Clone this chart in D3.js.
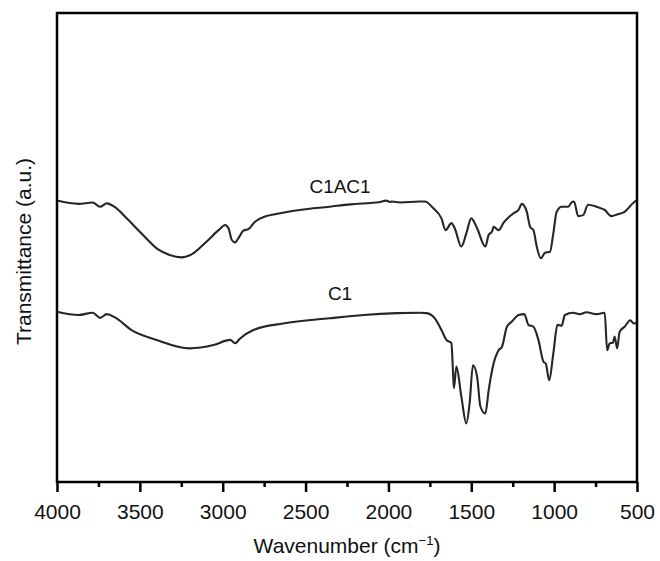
<!DOCTYPE html>
<html>
<head>
<meta charset="utf-8">
<script src="https://cdn.jsdelivr.net/npm/d3@7"></script>
<style>
  html, body { margin: 0; padding: 0; background: #fff; }
  svg { display: block; }
  text { font-family: "Liberation Sans", Arial, Helvetica, sans-serif; fill: #111; }
</style>
</head>
<body>
<svg id="chart" width="660" height="561"></svg>
<script>
// FTIR spectra: wavenumber (cm^-1) and transmittance (arbitrary units, offset traces)
const c1ac1Wavenumber = [4000, 3870, 3785, 3740, 3700, 3650, 3590, 3490, 3390, 3320, 3250, 3185, 3105, 3025, 2985, 2965, 2945, 2925, 2905, 2875, 2845, 2805, 2745, 2685, 2535, 2355, 2230, 2050, 2015, 1990, 1980, 1930, 1810, 1780, 1730, 1680, 1655, 1620, 1600, 1560, 1530, 1500, 1465, 1415, 1395, 1375, 1365, 1335, 1305, 1245, 1215, 1195, 1165, 1145, 1125, 1105, 1080, 1055, 1025, 1005, 985, 955, 915, 895, 880, 855, 825, 795, 745, 695, 655, 615, 575, 520, 500];
const c1ac1Transmittance = [60.0, 59.3, 59.6, 58.7, 59.4, 58.6, 56.6, 53.0, 49.6, 48.4, 47.9, 48.6, 51.0, 53.7, 54.8, 54.1, 51.6, 51.1, 52.0, 53.6, 53.9, 55.5, 56.6, 57.1, 58.0, 58.7, 59.2, 59.7, 60.0, 59.7, 59.8, 59.6, 59.8, 59.8, 58.4, 56.2, 53.7, 55.2, 54.1, 50.2, 53.0, 56.2, 54.1, 50.2, 52.7, 53.4, 54.4, 53.7, 55.3, 57.3, 58.0, 59.3, 57.6, 54.4, 53.7, 50.2, 47.7, 48.9, 49.1, 53.0, 57.6, 58.7, 58.7, 59.6, 59.8, 56.7, 56.9, 59.1, 58.7, 58.0, 56.7, 57.1, 57.6, 59.6, 60.1];

const c1Wavenumber = [4000, 3870, 3785, 3740, 3700, 3650, 3550, 3400, 3200, 3055, 2955, 2925, 2895, 2815, 2635, 2355, 2150, 1950, 1810, 1770, 1720, 1680, 1650, 1620, 1610, 1605, 1590, 1560, 1530, 1510, 1490, 1465, 1445, 1415, 1395, 1365, 1335, 1315, 1285, 1255, 1215, 1180, 1155, 1125, 1095, 1065, 1050, 1030, 1005, 980, 955, 935, 885, 845, 805, 745, 695, 680, 665, 645, 635, 620, 605, 575, 540, 520, 500];
const c1Transmittance = [36.3, 35.6, 36.1, 35.0, 35.8, 35.1, 32.4, 30.3, 28.5, 29.2, 30.3, 29.6, 30.6, 32.4, 33.8, 34.9, 35.6, 36.0, 36.1, 36.0, 34.9, 32.4, 30.3, 29.6, 23.2, 20.0, 24.6, 18.2, 12.5, 16.8, 24.9, 22.5, 16.1, 14.6, 19.6, 25.3, 28.1, 28.8, 33.1, 34.2, 35.6, 35.8, 33.5, 33.1, 30.3, 25.7, 25.2, 21.7, 27.4, 33.5, 33.3, 35.6, 36.1, 35.8, 36.2, 35.8, 36.1, 28.1, 29.6, 29.7, 31.0, 28.5, 32.0, 33.1, 34.5, 33.8, 34.1];

const seriesNames = ["C1AC1", "C1"];
// label anchor for each trace: [wavenumber, transmittance]
const labelPositions = [[2292, 61.6], [2292, 38.8]];

const majorTicks = [4000, 3500, 3000, 2500, 2000, 1500, 1000, 500];
const minorTicks = [3750, 3250, 2750, 2250, 1750, 1250, 750];

const margin = { left: 57, right: 23, top: 13, bottom: 79 };
const width = 660, height = 561;

const svg = d3.select("#chart");

const x = d3.scaleLinear().domain([4000, 500]).range([margin.left, width - margin.right]);
const y = d3.scaleLinear().domain([0, 100]).range([height - margin.bottom, margin.top]);

// spectra
const line = d3.line()
  .x(d => x(d[0]))
  .y(d => y(d[1]))
  .curve(d3.curveMonotoneX);

const traces = [
  d3.zip(c1ac1Wavenumber, c1ac1Transmittance),
  d3.zip(c1Wavenumber, c1Transmittance)
];

svg.append("g")
  .selectAll("path")
  .data(traces)
  .join("path")
  .attr("d", line)
  .attr("fill", "none")
  .attr("stroke", "#262626")
  .attr("stroke-width", 2.1)
  .attr("stroke-linejoin", "round");

// trace labels
svg.append("g")
  .selectAll("text")
  .data(seriesNames)
  .join("text")
  .attr("x", (d, i) => x(labelPositions[i][0]))
  .attr("y", (d, i) => y(labelPositions[i][1]))
  .attr("text-anchor", "middle")
  .attr("font-size", 19)
  .text(d => d);

// bottom axis: major ticks with labels
const xAxis = d3.axisBottom(x)
  .tickValues(majorTicks)
  .tickSize(10)
  .tickPadding(12)
  .tickFormat(d3.format("d"));

const gx = svg.append("g")
  .attr("transform", `translate(0,${y(0)})`)
  .call(xAxis);
gx.select(".domain").remove();
gx.selectAll(".tick line").attr("stroke", "#000").attr("stroke-width", 2.5);
gx.selectAll(".tick text")
  .attr("font-size", 21)
  .attr("font-family", "'Liberation Sans', Arial, sans-serif")
  .attr("fill", "#111");

// minor ticks
const xMinor = d3.axisBottom(x)
  .tickValues(minorTicks)
  .tickSize(5)
  .tickFormat("");
const gxm = svg.append("g")
  .attr("transform", `translate(0,${y(0)})`)
  .call(xMinor);
gxm.select(".domain").remove();
gxm.selectAll(".tick line").attr("stroke", "#000").attr("stroke-width", 2.5);

// plot frame
svg.append("rect")
  .attr("x", x(4000))
  .attr("y", y(100))
  .attr("width", x(500) - x(4000))
  .attr("height", y(0) - y(100))
  .attr("fill", "none")
  .attr("stroke", "#000")
  .attr("stroke-width", 2.5);

// axis titles
const xTitle = svg.append("text")
  .attr("x", (x(4000) + x(500)) / 2)
  .attr("y", 553)
  .attr("text-anchor", "middle")
  .attr("font-size", 21);
xTitle.append("tspan").text("Wavenumber (cm");
xTitle.append("tspan").attr("dy", -8).attr("font-size", 13).text("\u22121");
xTitle.append("tspan").attr("dy", 8).text(")");

svg.append("text")
  .attr("transform", `translate(31,${(y(0) + y(100)) / 2 + 4}) rotate(-90)`)
  .attr("text-anchor", "middle")
  .attr("font-size", 21)
  .text("Transmittance (a.u.)");
</script>
</body>
</html>
